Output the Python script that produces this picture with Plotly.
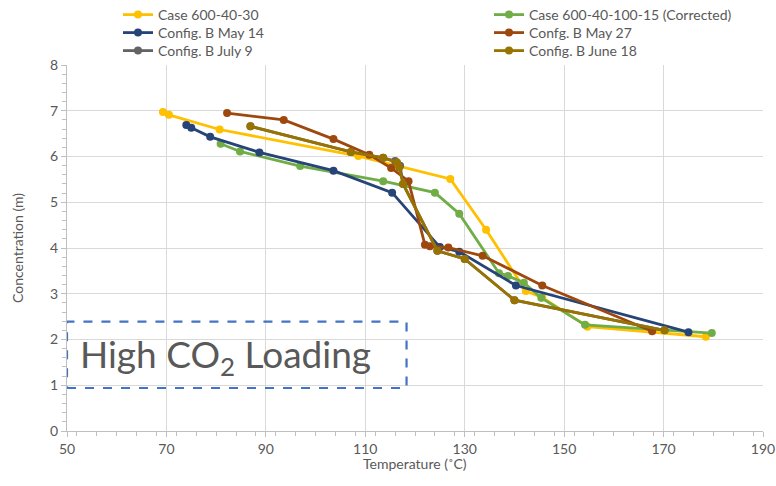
import plotly.graph_objects as go

# ---- data ----
case_30_x = [69.3, 70.5, 80.7, 108.6, 127.1, 134.3, 142.3, 145.6, 154.7, 178.5]
case_30_y = [6.97, 6.91, 6.59, 6.01, 5.51, 4.40, 3.06, 2.92, 2.28, 2.06]

case_15_x = [80.9, 84.8, 96.9, 113.6, 124.0, 128.9, 136.9, 138.7, 141.9, 145.4, 154.2, 179.7]
case_15_y = [6.28, 6.11, 5.79, 5.46, 5.21, 4.75, 3.45, 3.39, 3.24, 2.91, 2.32, 2.14]

may14_x = [74.0, 75.0, 78.8, 88.7, 103.6, 115.4, 125.0, 128.9, 140.3, 175.0]
may14_y = [6.69, 6.63, 6.43, 6.09, 5.69, 5.21, 4.02, 3.92, 3.18, 2.16]

may27_x = [82.2, 93.6, 103.6, 110.8, 115.2, 118.7, 122.0, 123.0, 126.7, 133.6, 145.6, 167.7]
may27_y = [6.95, 6.80, 6.38, 6.04, 5.75, 5.46, 4.07, 4.04, 4.01, 3.83, 3.18, 2.18]

july9_x = [86.9, 107.1, 113.6, 116.0, 117.0, 117.6, 124.5, 130.0, 140.0, 170.2]
july9_y = [6.66, 6.10, 5.97, 5.90, 5.80, 5.40, 3.94, 3.76, 2.86, 2.20]

june18_x = [86.9, 107.1, 113.6, 116.4, 116.8, 117.6, 124.5, 130.0, 140.0, 170.2]
june18_y = [6.66, 6.10, 5.97, 5.87, 5.76, 5.40, 3.94, 3.76, 2.86, 2.20]

series = [
    ("Case 600-40-30", case_30_x, case_30_y, "#FFC000"),
    ("Case 600-40-100-15 (Corrected)", case_15_x, case_15_y, "#70AD47"),
    ("Config. B May 14", may14_x, may14_y, "#264478"),
    ("Confg. B May 27", may27_x, may27_y, "#9E480E"),
    ("Config. B July 9", july9_x, july9_y, "#636363"),
    ("Config. B June 18", june18_x, june18_y, "#997300"),
]

x_ticks = [50, 70, 90, 110, 130, 150, 170, 190]
y_ticks = [0, 1, 2, 3, 4, 5, 6, 7, 8]
x_title = "Temperature (˚C)"
y_title = "Concentration (m)"

FONT = "Lato, Liberation Sans, sans-serif"
TXT = "#595959"
W, H = 776, 486

fig = go.Figure()
legend_layout = {}
col_left = [118, 489]       # legend box left edge (px)
row_mid = [15, 33, 51]      # legend row centres (px)
for i, (name, xs, ys, col) in enumerate(series):
    key = "legend" if i == 0 else f"legend{i + 1}"
    fig.add_trace(go.Scatter(
        x=xs, y=ys, name=name, mode="lines+markers",
        line=dict(color=col, width=2.8),
        marker=dict(color=col, size=8),
        legend=key,
    ))
    legend_layout[key] = dict(
        x=col_left[i % 2] / W, y=1 - row_mid[i // 2] / H,
        xref="container", yref="container", xanchor="left", yanchor="middle",
        font=dict(family=FONT, size=14, color=TXT), bgcolor="rgba(0,0,0,0)",
        itemwidth=30,
    )

# text box
fig.add_shape(type="rect", xref="x", yref="y", x0=50, x1=118.3, y0=0.94, y1=2.39,
              line=dict(color="#4472C4", width=2.2, dash="dash"), fillcolor="rgba(0,0,0,0)")
fig.add_annotation(xref="x", yref="y", x=52.3, y=1.62, xanchor="left", yanchor="middle",
                   text="High CO<sub>2</sub> Loading", showarrow=False,
                   font=dict(family=FONT, size=37, color=TXT))

# axis titles
fig.add_annotation(xref="paper", yref="paper", x=0.5, y=0, yshift=-32,
                   xanchor="center", yanchor="middle", text=x_title, showarrow=False,
                   font=dict(family=FONT, size=14, color=TXT))
fig.add_annotation(xref="paper", yref="paper", x=0, y=0.5, xshift=-50,
                   xanchor="center", yanchor="middle", textangle=-90, text=y_title,
                   showarrow=False, font=dict(family=FONT, size=14, color=TXT))

fig.update_layout(
    width=W, height=H,
    margin=dict(l=67, r=13, t=65, b=55, autoexpand=False),
    paper_bgcolor="white", plot_bgcolor="white",
    font=dict(family=FONT, size=13, color=TXT),
    showlegend=True,
    **legend_layout,
)

fig.update_xaxes(
    range=[50, 190], tickvals=x_ticks, ticktext=[str(v) for v in x_ticks],
    showgrid=True, gridcolor="#D9D9D9", gridwidth=1,
    showline=True, linecolor="#BFBFBF", linewidth=1,
    ticks="outside", ticklen=5, tickcolor="#BFBFBF",
    minor=dict(dtick=4, ticks="outside", ticklen=4, tickcolor="#BFBFBF", showgrid=False),
    zeroline=False,
    tickfont=dict(family=FONT, size=14, color=TXT),
)
fig.update_yaxes(
    range=[0, 8], tickvals=y_ticks,
    showgrid=True, gridcolor="#D9D9D9", gridwidth=1,
    showline=True, linecolor="#BFBFBF", linewidth=1,
    ticks="outside", ticklen=5, tickcolor="#BFBFBF",
    minor=dict(dtick=0.2, ticks="outside", ticklen=4, tickcolor="#BFBFBF", showgrid=False),
    zeroline=False,
    tickfont=dict(family=FONT, size=14, color=TXT),
)

fig.write_html("out.html", config={"displayModeBar": False},
               post_script="document.body.style.margin='0px';")
